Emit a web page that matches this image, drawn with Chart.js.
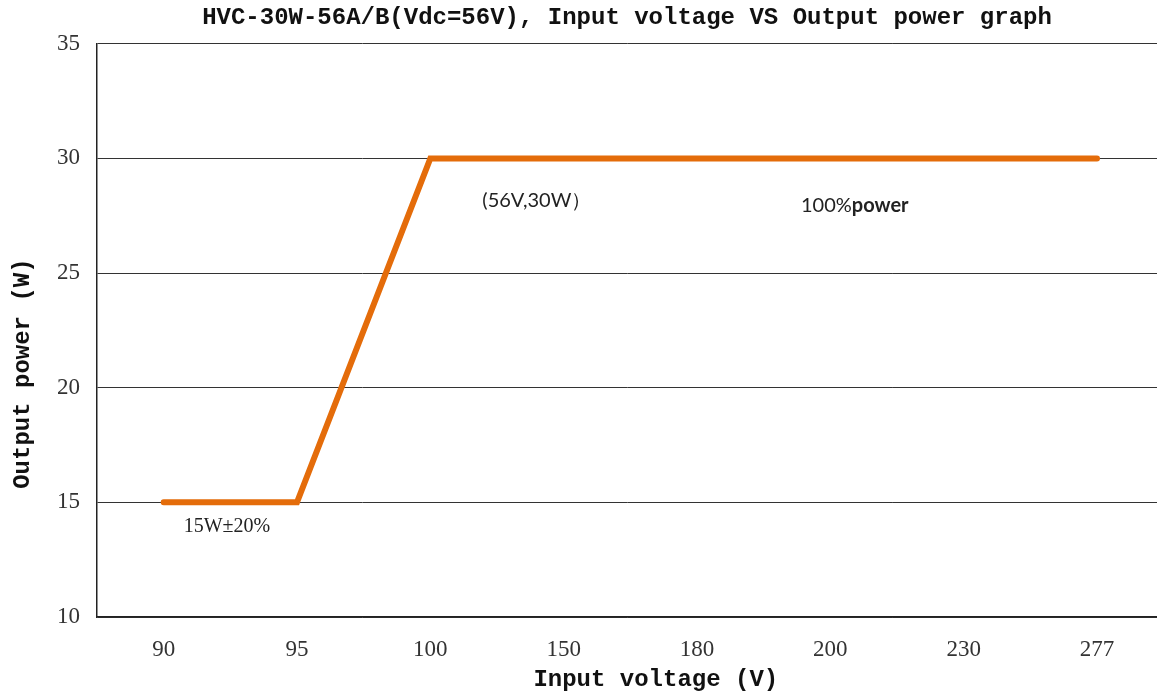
<!DOCTYPE html>
<html>
<head>
<meta charset="utf-8">
<script src="https://cdn.jsdelivr.net/npm/chart.js@4"></script>
<style>
  html, body { margin: 0; padding: 0; background: #fff; }
  #wrap { width: 1157px; height: 697px; }
</style>
</head>
<body>
<div id="wrap"><canvas id="powerChart" width="1157" height="697"></canvas></div>
<script>
// input voltage categories (evenly spaced on the axis)
const voltages = ['90', '95', '100', '150', '180', '200', '230', '277'];
// output power in W at each category
const power = [15, 15, 30, 30, 30, 30, 30, 30];
const yTicks = [10, 15, 20, 25, 30, 35];

// text notes: x = category index, y = watts
const notes = [
    { x: 2.39, y: 28.17, parts: [['(56V,30W）', 'normal']], font: 'Lato' },
    { x: 4.78, y: 27.95, parts: [['100%', 'normal'], ['power', 'bold']], font: 'Lato' },
    { x: 0.15, y: 13.95, parts: [['15W±20%', 'normal']], font: '"Liberation Serif"' }
];

const monoBold = { family: '"Liberation Mono", monospace', size: 24, weight: 'bold' };
const tickFont = { family: '"Liberation Serif", serif', size: 23 };

const notesPlugin = {
    id: 'notes',
    afterDatasetsDraw(chart) {
        const { ctx, scales: { x, y } } = chart;
        ctx.save();
        ctx.fillStyle = '#222';
        ctx.textBaseline = 'middle';
        ctx.textAlign = 'left';
        notes.forEach(n => {
            let px = x.getPixelForValue(n.x);
            const py = y.getPixelForValue(n.y);
            n.parts.forEach(([txt, w]) => {
                ctx.font = w + ' 20px ' + n.font;
                ctx.fillText(txt, px, py);
                px += ctx.measureText(txt).width;
            });
        });
        ctx.restore();
    }
};

new Chart(document.getElementById('powerChart').getContext('2d'), {
    type: 'line',
    data: {
        datasets: [{
            label: 'Output power',
            data: power.map((p, i) => ({ x: i, y: p })),
            borderColor: '#E46C0A',
            borderWidth: 6,
            borderCapStyle: 'round',
            borderJoinStyle: 'miter',
            pointRadius: 0,
            tension: 0
        }]
    },
    options: {
        responsive: false,
        animation: false,
        layout: { padding: 0 },
        plugins: {
            legend: { display: false },
            tooltip: { enabled: false },
            title: {
                display: true,
                fullSize: false,
                text: 'HVC-30W-56A/B(Vdc=56V), Input voltage VS Output power graph',
                color: '#111',
                font: monoBold,
                padding: { top: 4, bottom: 11 }
            }
        },
        scales: {
            x: {
                type: 'linear',
                min: -0.5,
                max: 7.45,
                afterBuildTicks: s => { s.ticks = voltages.map((v, i) => ({ value: i })); },
                afterFit: s => { s.height = 80; },
                grid: { display: false, drawTicks: false },
                border: { display: true, color: '#222', width: 1.5 },
                ticks: {
                    padding: 19,
                    color: '#333',
                    font: tickFont,
                    callback: v => voltages[v]
                },
                title: {
                    display: true,
                    text: '    Input voltage (V)',
                    color: '#111',
                    font: monoBold,
                    padding: { top: 0, bottom: 3 }
                }
            },
            y: {
                min: 10,
                max: 35,
                afterBuildTicks: s => { s.ticks = yTicks.map(v => ({ value: v })); },
                afterFit: s => { s.width = 97; },
                grid: { color: '#333', lineWidth: 1, drawTicks: false },
                border: { display: true, color: '#222', width: 1.5 },
                ticks: {
                    padding: 17,
                    color: '#333',
                    font: tickFont
                },
                title: {
                    display: true,
                    text: 'Output power (W)      ',
                    color: '#111',
                    font: monoBold,
                    padding: { top: 9, bottom: 0 }
                }
            }
        }
    },
    plugins: [notesPlugin]
});
</script>
</body>
</html>
